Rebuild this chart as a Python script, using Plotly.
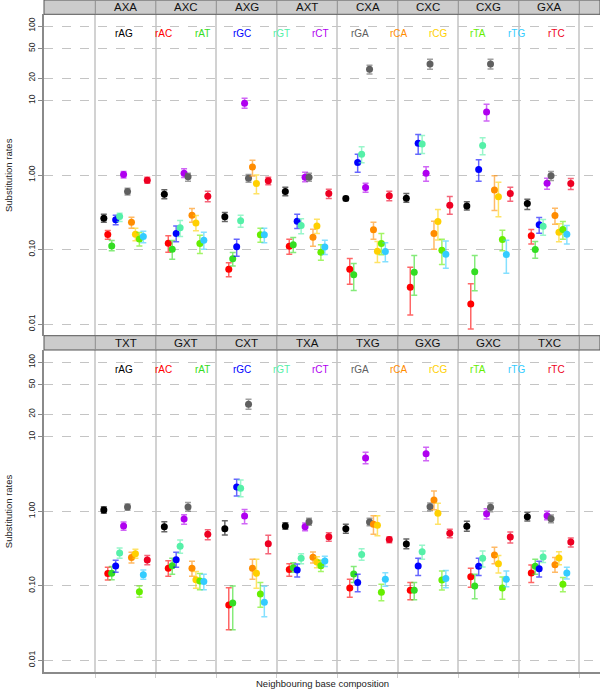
import plotly.graph_objects as go

rates = ["rAG", "rAC", "rAT", "rGC", "rGT", "rCT", "rGA", "rCA", "rCG", "rTA", "rTG", "rTC"]
rate_colors = ["#000000", "#FF0000", "#33DD22", "#0000FF", "#55F0A8", "#B000F0",
               "#606060", "#FF8C00", "#FFD000", "#66EE00", "#33CCFF", "#EE0022"]

top_contexts = ["AXA", "AXC", "AXG", "AXT", "CXA", "CXC", "CXG", "GXA"]
bottom_contexts = ["TXT", "GXT", "CXT", "TXA", "TXG", "GXG", "GXC", "TXC"]

ytick_vals = [0.01, 0.1, 1, 10, 20, 50, 100]
ytick_text = ["0.01", "0.10", "1.00", "10", "20", "50", "100"]

# ---- top panel: estimates, lower and upper bounds (rows follow `rates`) ----
top_val = [
    [0.264, 0.554, 0.275, 0.60, 0.484, 0.489, 0.386, 0.415],
    [0.159, 0.122, 0.0547, 0.111, 0.0547, 0.0313, 0.0187, 0.153],
    [0.112, 0.101, 0.0752, 0.116, 0.0459, 0.0498, 0.0503, 0.100],
    [0.251, 0.164, 0.109, 0.24, 1.47, 2.68, 1.19, 0.215],
    [0.278, 0.196, 0.243, 0.21, 1.91, 2.62, 2.49, 0.206],
    [1.02, 1.06, 9.2, 0.936, 0.68, 1.06, 7.0, 0.778],
    [0.60, 0.946, 0.908, 0.936, 26.3, 31.0, 31.0, 0.976],
    [0.233, 0.29, 1.28, 0.147, 0.184, 0.164, 0.633, 0.287],
    [0.161, 0.228, 0.77, 0.208, 0.0953, 0.238, 0.51, 0.171],
    [0.139, 0.121, 0.158, 0.0924, 0.121, 0.098, 0.137, 0.186],
    [0.15, 0.134, 0.158, 0.108, 0.0944, 0.0868, 0.0859, 0.161],
    [0.853, 0.52, 0.836, 0.565, 0.526, 0.394, 0.565, 0.77],
]
top_lo = [
    [0.233, 0.480, 0.238, 0.526, 0.455, 0.433, 0.341, 0.345],
    [0.138, 0.0924, 0.0432, 0.0869, 0.0344, 0.0133, 0.0086, 0.119],
    [0.0964, 0.0745, 0.0605, 0.0914, 0.0283, 0.0245, 0.028, 0.0767],
    [0.215, 0.127, 0.0817, 0.192, 1.09, 1.91, 0.828, 0.166],
    [0.238, 0.150, 0.200, 0.163, 1.46, 1.95, 1.87, 0.156],
    [0.917, 0.927, 7.9, 0.811, 0.589, 0.828, 5.33, 0.646],
    [0.542, 0.828, 0.802, 0.828, 22.7, 26.3, 26.5, 0.845],
    [0.194, 0.233, 0.97, 0.111, 0.138, 0.101, 0.334, 0.219],
    [0.131, 0.179, 0.56, 0.164, 0.0671, 0.135, 0.275, 0.127],
    [0.112, 0.0887, 0.126, 0.0721, 0.0851, 0.063, 0.0964, 0.138],
    [0.124, 0.101, 0.124, 0.0859, 0.0685, 0.0564, 0.0483, 0.119],
    [0.778, 0.437, 0.739, 0.484, 0.451, 0.299, 0.446, 0.64],
]
top_hi = [
    [0.299, 0.634, 0.315, 0.687, 0.515, 0.565, 0.437, 0.474],
    [0.180, 0.153, 0.0665, 0.138, 0.076, 0.058, 0.0347, 0.186],
    [0.132, 0.132, 0.0914, 0.145, 0.0652, 0.0834, 0.0834, 0.128],
    [0.290, 0.208, 0.138, 0.299, 1.91, 3.49, 1.6, 0.269],
    [0.308, 0.246, 0.290, 0.259, 2.39, 3.4, 3.18, 0.253],
    [1.115, 1.22, 10.7, 1.09, 0.778, 1.29, 8.93, 0.908],
    [0.667, 1.06, 1.02, 1.06, 29.8, 35.8, 35.8, 1.115],
    [0.272, 0.356, 1.58, 0.188, 0.233, 0.24, 0.976, 0.36],
    [0.194, 0.287, 1.0, 0.256, 0.128, 0.345, 0.802, 0.222],
    [0.169, 0.156, 0.194, 0.116, 0.164, 0.138, 0.182, 0.238],
    [0.177, 0.171, 0.194, 0.134, 0.124, 0.130, 0.134, 0.21],
    [0.936, 0.608, 0.936, 0.646, 0.608, 0.515, 0.687, 0.899],
]

# ---- bottom panel ----
bot_val = [
    [1.04, 0.622, 0.585, 0.634, 0.585, 0.364, 0.628, 0.847],
    [0.146, 0.172, 0.0553, 0.165, 0.0933, 0.0869, 0.132, 0.149],
    [0.147, 0.186, 0.0588, 0.175, 0.144, 0.0869, 0.0993, 0.183],
    [0.184, 0.224, 2.12, 0.163, 0.111, 0.184, 0.183, 0.17],
    [0.276, 0.339, 2.04, 0.234, 0.264, 0.287, 0.234, 0.244],
    [0.634, 0.788, 0.865, 0.622, 5.2, 5.9, 0.929, 0.873],
    [1.14, 1.14, 27.3, 0.726, 0.718, 1.15, 1.13, 0.797],
    [0.239, 0.172, 0.172, 0.241, 0.668, 1.42, 0.259, 0.192],
    [0.27, 0.121, 0.147, 0.209, 0.648, 0.939, 0.198, 0.236],
    [0.0834, 0.116, 0.0776, 0.186, 0.0818, 0.12, 0.0933, 0.105],
    [0.141, 0.114, 0.06, 0.215, 0.122, 0.125, 0.122, 0.149],
    [0.222, 0.491, 0.368, 0.457, 0.417, 0.506, 0.452, 0.387],
]
bot_lo = [
    [0.939, 0.533, 0.481, 0.573, 0.506, 0.315, 0.538, 0.741],
    [0.12, 0.134, 0.0258, 0.134, 0.07, 0.0652, 0.0955, 0.111],
    [0.121, 0.143, 0.0258, 0.152, 0.111, 0.0652, 0.0671, 0.143],
    [0.152, 0.177, 1.6, 0.131, 0.0834, 0.138, 0.138, 0.131],
    [0.234, 0.273, 1.57, 0.198, 0.22, 0.227, 0.179, 0.205],
    [0.556, 0.668, 0.683, 0.55, 4.35, 4.78, 0.788, 0.772],
    [1.03, 1.0, 23.4, 0.648, 0.641, 1.02, 0.989, 0.703],
    [0.202, 0.134, 0.122, 0.202, 0.491, 1.05, 0.198, 0.152],
    [0.234, 0.0925, 0.0925, 0.175, 0.471, 0.668, 0.149, 0.192],
    [0.07, 0.0887, 0.0514, 0.156, 0.0632, 0.0879, 0.0658, 0.0834],
    [0.122, 0.0887, 0.0385, 0.182, 0.0984, 0.0944, 0.0973, 0.123],
    [0.192, 0.416, 0.27, 0.395, 0.379, 0.443, 0.376, 0.332],
]
bot_hi = [
    [1.15, 0.726, 0.749, 0.703, 0.668, 0.425, 0.733, 0.969],
    [0.177, 0.217, 0.0944, 0.198, 0.122, 0.111, 0.172, 0.19],
    [0.181, 0.234, 0.0994, 0.204, 0.182, 0.111, 0.143, 0.227],
    [0.22, 0.281, 2.69, 0.196, 0.143, 0.234, 0.234, 0.213],
    [0.322, 0.412, 2.63, 0.27, 0.315, 0.349, 0.293, 0.293],
    [0.718, 0.901, 1.06, 0.697, 6.2, 7.23, 1.08, 1.0],
    [1.25, 1.31, 31.9, 0.805, 0.805, 1.29, 1.29, 0.892],
    [0.281, 0.213, 0.227, 0.284, 0.873, 1.87, 0.328, 0.239],
    [0.309, 0.156, 0.227, 0.246, 0.873, 1.28, 0.256, 0.287],
    [0.0994, 0.146, 0.111, 0.22, 0.105, 0.158, 0.131, 0.129],
    [0.163, 0.143, 0.0984, 0.249, 0.15, 0.16, 0.158, 0.177],
    [0.256, 0.567, 0.476, 0.517, 0.452, 0.573, 0.527, 0.438],
]

# ---------------- layout geometry ----------------
W, H = 600, 693
FONT = "Liberation Sans, Arial, sans-serif"
x_left = 44 / W
p1_top, p1_bot = 14.3, 335.7
p2_top, p2_bot = 350.0, 672.3


def py(px):
    return 1 - px / H


spacing = 0.0653
boundaries = [k + 0.5 for k in range(0, 9)]


def rgba(hex_col, a):
    h = hex_col.lstrip("#")
    r, g, b = int(h[0:2], 16), int(h[2:4], 16), int(h[4:6], 16)
    return f"rgba({r},{g},{b},{a})"


fig = go.Figure()

panels = [
    ("x", "y", top_val, top_lo, top_hi),
    ("x2", "y2", bot_val, bot_lo, bot_hi),
]
for xa, ya, vals, los, his in panels:
    for i, rate in enumerate(rates):
        xs = [k + 1 + (i - 5.5) * spacing for k in range(8)]
        v = vals[i]
        up = [h - y for h, y in zip(his[i], v)]
        dn = [y - l for y, l in zip(v, los[i])]
        fig.add_trace(go.Scatter(
            x=xs, y=v, mode="markers", xaxis=xa, yaxis=ya, name=rate,
            showlegend=False,
            marker=dict(size=7, color=rate_colors[i], line=dict(width=0)),
            error_y=dict(type="data", symmetric=False, array=up, arrayminus=dn,
                         color=rgba(rate_colors[i], 0.6), thickness=1.5, width=3),
        ))

common_x = dict(range=[-0.348, 8.842], tickmode="array", tickvals=boundaries,
                showticklabels=False, showgrid=True, gridcolor="#d2d2d2",
                gridwidth=1.5, zeroline=False, fixedrange=True)
common_y = dict(type="log", tickmode="array", tickvals=ytick_vals, ticktext=ytick_text,
                tickangle=-90, tickfont=dict(size=8.5, color="#222", family=FONT),
                showgrid=True, gridcolor="#c4c4c4", griddash="dash", gridwidth=1,
                showline=True, linecolor="#8a8a8a", linewidth=2, ticks="outside",
                ticklen=4, tickcolor="#8a8a8a", zeroline=False)

fig.update_layout(
    width=W, height=H, margin=dict(l=0, r=0, t=0, b=0),
    paper_bgcolor="white", plot_bgcolor="white", showlegend=False,
    font=dict(family=FONT, color="#222"),
    xaxis=dict(domain=[x_left, 1], anchor="y", ticks="", **common_x),
    yaxis=dict(domain=[py(p1_bot), py(p1_top)], anchor="x",
               range=[-2.155, 2.157], **common_y),
    xaxis2=dict(domain=[x_left, 1], anchor="y2", ticks="outside", ticklen=4,
                tickcolor="#cfcfcf", showline=True, linecolor="#8a8a8a",
                linewidth=2, **common_x),
    yaxis2=dict(domain=[py(p2_bot), py(p2_top)], anchor="x2",
                range=[-2.161, 2.165], **common_y),
)

shapes = []
annotations = []
strips = [
    ("x", top_contexts, 0.0, p1_top),
    ("x2", bottom_contexts, p1_bot, p2_top),
]
for xa, ctx, s_top, s_bot in strips:
    shapes.append(dict(type="rect", xref="paper", yref="paper", x0=x_left, x1=1,
                       y0=py(s_bot), y1=py(s_top), fillcolor="#cccccc",
                       line=dict(color="#555555", width=1), layer="above"))
    for b in boundaries:
        shapes.append(dict(type="line", xref=xa, yref="paper", x0=b, x1=b,
                           y0=py(s_bot), y1=py(s_top),
                           line=dict(color="#8c8c8c", width=1), layer="above"))
    for k, c in enumerate(ctx):
        annotations.append(dict(text=c, x=k + 1, xref=xa, y=py((s_top + s_bot) / 2),
                                yref="paper", showarrow=False, xanchor="center",
                                yanchor="middle",
                                font=dict(size=11.5, color="#111", family=FONT)))

# rate legend labels inside each panel
for xa, ya in [("x", "y"), ("x2", "y2")]:
    for i, rate in enumerate(rates):
        annotations.append(dict(text=rate, x=0.974 + 0.6496 * i, xref=xa, y=1.9, yref=ya,
                                showarrow=False, xanchor="center", yanchor="middle",
                                font=dict(size=10, color=rate_colors[i], family=FONT)))

# axis titles
for top, bot in [(p1_top, p1_bot), (p2_top, p2_bot)]:
    annotations.append(dict(text="Substitution rates", x=8 / W, xref="paper",
                            y=py((top + bot) / 2), yref="paper", textangle=-90,
                            showarrow=False, xanchor="center", yanchor="middle",
                            font=dict(size=9.5, color="#222", family=FONT)))
annotations.append(dict(text="Neighbouring base composition", x=(44 + 600) / 2 / W,
                        xref="paper", y=py(683), yref="paper", showarrow=False,
                        xanchor="center", yanchor="middle",
                        font=dict(size=9.5, color="#222", family=FONT)))

fig.update_layout(shapes=shapes, annotations=annotations)
fig.write_html("out.html",
               config={"displayModeBar": False},
               post_script="document.body.style.margin='0';"
                           "document.body.style.overflow='hidden';")
